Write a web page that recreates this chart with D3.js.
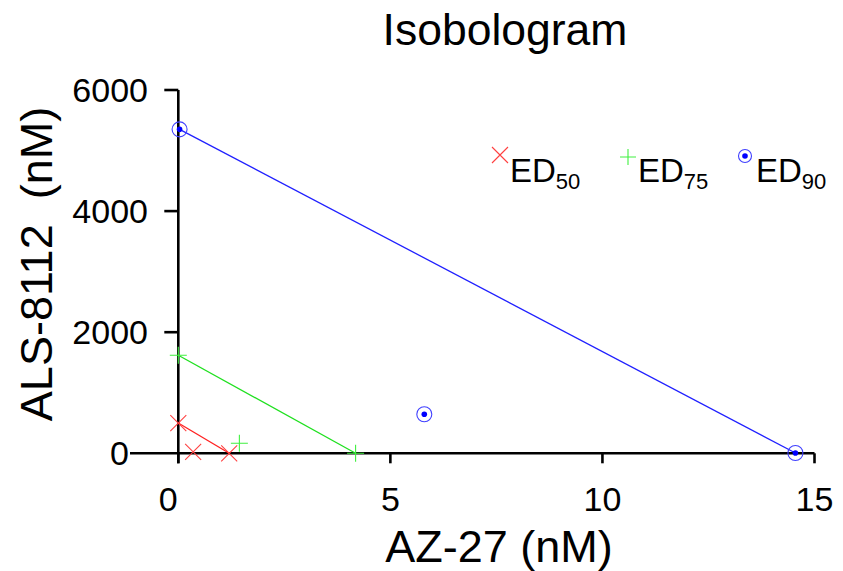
<!DOCTYPE html>
<html><head><meta charset="utf-8">
<script src="https://cdn.jsdelivr.net/npm/d3@7"></script>
<style>body{margin:0;background:#fff}svg{display:block}text{font-family:Arial,"Liberation Sans",sans-serif}</style>
</head><body><svg id="c" width="843" height="571"></svg>
<script>
// data
const ed50 = [[0, 500], [0.35, 25], [1.2, 0]];
const ed75 = [[0, 1620], [1.44, 165], [4.18, 0]];
const ed90 = [[0.03, 5350], [5.8, 645], [14.55, 5]];
const ed50Line = [[0, 500], [1.2, 0]];
const ed75Line = [[0, 1620], [4.18, 0]];
const ed90Line = [[0.03, 5350], [14.55, 5]];
const xTicks = [0, 5, 10, 15];
const yTicks = [0, 2000, 4000, 6000];
const legendLabels = [["ED", "50"], ["ED", "75"], ["ED", "90"]];

const svg = d3.select("#c");
const x = d3.scaleLinear().domain([0, 15]).range([178.3, 814.5]);
const y = d3.scaleLinear().domain([0, 6000]).range([453.3, 90]);

// title
svg.append("text").attr("x", 505).attr("y", 45).attr("text-anchor", "middle")
  .attr("font-size", 44.5).text("Isobologram");

// axes
const ax = svg.append("g").attr("stroke", "#000").attr("stroke-width", 2.6).attr("fill", "none");
ax.append("line").attr("x1", 130).attr("x2", x(15)).attr("y1", y(0)).attr("y2", y(0));
ax.append("line").attr("x1", x(0)).attr("x2", x(0)).attr("y1", y(6000)).attr("y2", y(0) + 10);
xTicks.forEach(t => ax.append("line").attr("x1", x(t)).attr("x2", x(t)).attr("y1", y(0)).attr("y2", y(0) + 10));
yTicks.filter(t => t > 0).forEach(t => ax.append("line").attr("x1", x(0) - 14).attr("x2", x(0)).attr("y1", y(t)).attr("y2", y(t)));

svg.selectAll(".xt").data(xTicks).join("text")
  .attr("x", d => x(d) + (d === 0 ? -10 : 0)).attr("y", 511).attr("text-anchor", "middle")
  .attr("font-size", 34).text(d => d);
svg.selectAll(".yt").data(yTicks).join("text")
  .attr("x", d => d === 0 ? 129 : 148).attr("y", d => y(d) + 12).attr("text-anchor", "end")
  .attr("font-size", 34).text(d => d);

svg.append("text").attr("x", 499).attr("y", 562).attr("text-anchor", "middle")
  .attr("font-size", 45).text("AZ-27 (nM)");
svg.append("text").attr("transform", "translate(52,264) rotate(-90)").attr("text-anchor", "middle")
  .attr("font-size", 45).attr("xml:space", "preserve").text("ALS-8112  (nM)");

// lines
const line = d3.line().x(d => x(d[0])).y(d => y(d[1]));
svg.append("path").datum(ed50Line).attr("d", line).attr("stroke", "#ff2020").attr("stroke-width", 1.3).attr("fill", "none");
svg.append("path").datum(ed75Line).attr("d", line).attr("stroke", "#20e020").attr("stroke-width", 1.3).attr("fill", "none");
svg.append("path").datum(ed90Line).attr("d", line).attr("stroke", "#2020ff").attr("stroke-width", 1.3).attr("fill", "none");

// markers
function cross(g, cx, cy, s, col) {
  g.append("path").attr("d", `M${cx - s},${cy - s}L${cx + s},${cy + s}M${cx - s},${cy + s}L${cx + s},${cy - s}`)
    .attr("stroke", col).attr("stroke-width", 1.1).attr("fill", "none");
}
function plus(g, cx, cy, s, col) {
  g.append("path").attr("d", `M${cx - s},${cy}L${cx + s},${cy}M${cx},${cy - s}L${cx},${cy + s}`)
    .attr("stroke", col).attr("stroke-width", 1.1).attr("fill", "none");
}
function circ(g, cx, cy, r, col) {
  g.append("circle").attr("cx", cx).attr("cy", cy).attr("r", r).attr("stroke", col).attr("stroke-width", 1.1).attr("fill", "none");
  g.append("circle").attr("cx", cx).attr("cy", cy).attr("r", 2.8).attr("fill", "#0000ff");
}
const m = svg.append("g");
ed50.forEach(d => cross(m, x(d[0]), y(d[1]), 8, "#ff4040"));
ed75.forEach(d => plus(m, x(d[0]), y(d[1]), 8.5, "#40f040"));
ed90.forEach(d => circ(m, x(d[0]), y(d[1]), 7.5, "#4040ff"));

// legend
const lg = svg.append("g");
const legX = [510, 638, 756];
cross(lg, 500, 155, 8, "#ff4040");
plus(lg, 628, 157, 8, "#40f040");
circ(lg, 745, 156, 6.5, "#4040ff");
legendLabels.forEach((l, i) => {
  const t = lg.append("text").attr("x", legX[i]).attr("y", 182).attr("font-size", 33);
  t.append("tspan").text(l[0]);
  t.append("tspan").attr("dy", 7).attr("font-size", 22).text(l[1]);
});
</script></body></html>
